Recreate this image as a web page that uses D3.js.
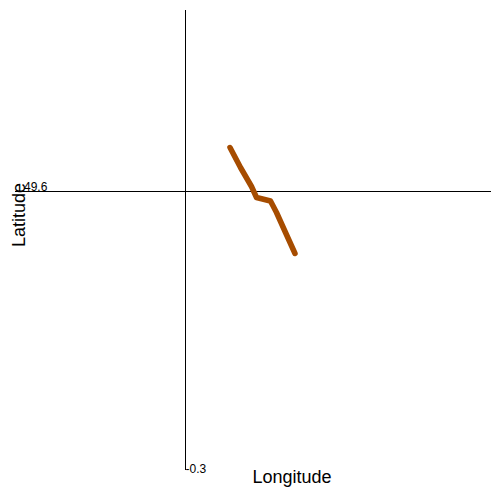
<!DOCTYPE html>
<html>
<head>
<meta charset="utf-8">
<script src="https://cdn.jsdelivr.net/npm/d3@7"></script>
<style>
  body { margin: 0; background: #fff; }
  text { font-family: "Liberation Sans", Arial, sans-serif; }
</style>
</head>
<body>
<div id="chart"></div>
<script>
// track points (degrees)
const longitudes = [-0.2555, -0.245, -0.234, -0.229, -0.223, -0.215, -0.209, -0.2, -0.1905];
const latitudes = [49.644, 49.624, 49.605, 49.594, 49.5925, 49.5905, 49.579, 49.559, 49.538];
const xTickLabels = ['-0.3'];
const yTickLabels = ['49.6'];

const width = 500, height = 500;

const svg = d3.select('#chart')
  .append('svg')
  .attr('width', width)
  .attr('height', height);

const x = d3.scaleLinear().domain([-0.3, 0.005]).range([185.5, 490.5]);
const y = d3.scaleLinear().domain([49.3215, 49.7815]).range([470, 10]);

const points = longitudes.map((lon, i) => [lon, latitudes[i]]);

// axis lines
svg.append('line')
  .attr('x1', x(-0.3)).attr('x2', x(-0.3))
  .attr('y1', y.range()[1]).attr('y2', y.range()[0])
  .attr('stroke', '#000').attr('stroke-width', 1)
  .attr('shape-rendering', 'crispEdges');

svg.append('line')
  .attr('x1', 15).attr('x2', x.range()[1])
  .attr('y1', y(49.6)).attr('y2', y(49.6))
  .attr('stroke', '#000').attr('stroke-width', 1)
  .attr('shape-rendering', 'crispEdges');

// tick labels
svg.append('text')
  .attr('x', x(+xTickLabels[0]))
  .attr('y', y.range()[0] + 3)
  .attr('font-size', 12)
  .text(xTickLabels[0]);

svg.append('text')
  .attr('x', 24)
  .attr('y', y(+yTickLabels[0]) - 0.5)
  .attr('font-size', 12)
  .text(yTickLabels[0]);

// axis titles
svg.append('text')
  .attr('x', 292)
  .attr('y', 483)
  .attr('text-anchor', 'middle')
  .attr('font-size', 18)
  .text('Longitude');

svg.append('text')
  .attr('transform', 'translate(25,215) rotate(-90)')
  .attr('text-anchor', 'middle')
  .attr('font-size', 18)
  .text('Latitude');

// track
const line = d3.line().x(d => x(d[0])).y(d => y(d[1]));
svg.append('path')
  .datum(points)
  .attr('d', line)
  .attr('fill', 'none')
  .attr('stroke', '#a64c00')
  .attr('stroke-width', 5.5)
  .attr('stroke-linecap', 'round')
  .attr('stroke-linejoin', 'round');
</script>
</body>
</html>
